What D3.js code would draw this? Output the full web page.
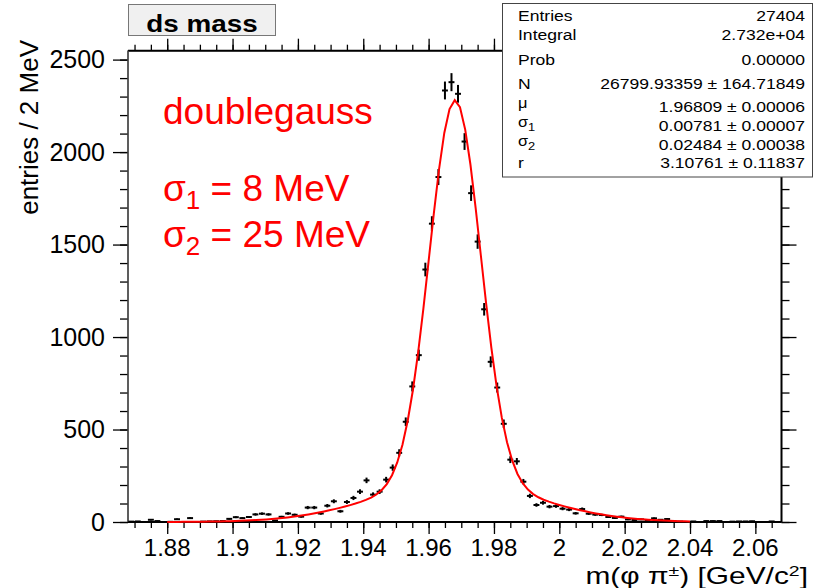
<!DOCTYPE html>
<html>
<head>
<meta charset="utf-8">
<script src="https://cdn.jsdelivr.net/npm/d3@7"></script>
<style>
  body { margin: 0; background: #fff; }
  text { font-family: "Liberation Sans", Arial, Helvetica, sans-serif; }
</style>
</head>
<body>
<svg id="chart" width="819" height="588"></svg>
<script>
// ---- histogram: m(phi pi) in 2 MeV bins ----
const histRange = [1.868, 2.068];
const binCount = 100;
const counts = [
  2, 3, 0, 12, 5, 0, 1, 15, 0, 21,
  0, 2, 3, 4, 5, 17, 26, 21, 27, 41,
  45, 41, 8, 28, 46, 39, 29, 78, 78, 46,
  88, 112, 58, 108, 130, 164, 225, 148, 164, 229,
  294, 374, 542, 733, 902, 1365, 1613, 1865, 2333, 2378,
  2315, 2057, 1778, 1516, 1150, 866, 727, 531, 337, 328,
  218, 141, 92, 104, 83, 86, 72, 67, 47, 70,
  45, 40, 38, 27, 22, 29, 14, 11, 14, 10,
  20, 12, 16, 4, 2, 0, 3, 0, 5, 5,
  5, 0, 2, 3, 3, 4, 0, 0, 3, 0
];

// ---- axis ticks ----
const xMajorTicks = [1.88, 1.90, 1.92, 1.94, 1.96, 1.98, 2.00, 2.02, 2.04, 2.06];
const xTickLabels = ["1.88", "1.9", "1.92", "1.94", "1.96", "1.98", "2", "2.02", "2.04", "2.06"];
const yMajorTicks = [0, 500, 1000, 1500, 2000, 2500];
const yTickLabels = ["0", "500", "1000", "1500", "2000", "2500"];

// ---- double-gaussian fit result ----
const fitRange = [1.88, 2.04];
const fitParamNames = ["N", "mu", "sigma1", "sigma2", "r"];
const fitParamValues = [26799.93359, 1.96809, 0.00781, 0.02484, 3.10761];
const fitParamErrors = [164.71849, 0.00006, 0.00007, 0.00038, 0.11837];

// ---- statistics box ----
const statsLabels = ["Entries", "Integral", "Prob", "N", "\u03bc", "\u03c3|1", "\u03c3|2", "r"];
const statsValues = ["27404", "2.732e+04", "0.00000",
  "26799.93359 \u00b1 164.71849", "1.96809 \u00b1 0.00006",
  "0.00781 \u00b1 0.00007", "0.02484 \u00b1 0.00038", "3.10761 \u00b1 0.11837"];

const svg = d3.select("#chart");
const frame = { left: 128, right: 781.5, top: 50.7, bottom: 522 };

const binWidth = (histRange[1] - histRange[0]) / binCount;
const bins = counts.map((c, i) => ({
  lo: histRange[0] + i * binWidth,
  hi: histRange[0] + (i + 1) * binWidth,
  c: c,
  e: Math.sqrt(c)
}));

const yMax = 1.05 * d3.max(bins, d => d.c + d.e);
const x = d3.scaleLinear().domain(histRange).range([frame.left, frame.right]);
const y = d3.scaleLinear().domain([0, yMax]).range([frame.bottom, frame.top]);

// frame outline
svg.append("rect")
  .attr("x", frame.left).attr("y", frame.top)
  .attr("width", frame.right - frame.left).attr("height", frame.bottom - frame.top)
  .attr("fill", "none").attr("stroke", "#555").attr("stroke-width", 1);

// ---- axes (ticks pointing outwards) ----
const xMinorTicks = d3.range(1.870, 2.068, 0.005).map(v => +v.toFixed(3));
const yMinorTicks = d3.range(0, yMax, 100);

function drawAxis(g, axis) {
  g.call(axis);
  g.select(".domain").remove();
  g.selectAll(".tick line").attr("stroke", "#000").attr("stroke-width", 1.3);
  g.selectAll(".tick text").remove();
}

// bottom
drawAxis(svg.append("g").attr("transform", `translate(0,${frame.bottom})`),
  d3.axisBottom(x).tickValues(xMinorTicks).tickSize(6));
drawAxis(svg.append("g").attr("transform", `translate(0,${frame.bottom})`),
  d3.axisBottom(x).tickValues(xMajorTicks).tickSize(12));
// top
drawAxis(svg.append("g").attr("transform", `translate(0,${frame.top})`),
  d3.axisTop(x).tickValues(xMinorTicks).tickSize(6));
drawAxis(svg.append("g").attr("transform", `translate(0,${frame.top})`),
  d3.axisTop(x).tickValues(xMajorTicks).tickSize(12));
// left
drawAxis(svg.append("g").attr("transform", `translate(${frame.left},0)`),
  d3.axisLeft(y).tickValues(yMinorTicks).tickSize(8));
drawAxis(svg.append("g").attr("transform", `translate(${frame.left},0)`),
  d3.axisLeft(y).tickValues(yMajorTicks).tickSize(15));
// right
drawAxis(svg.append("g").attr("transform", `translate(${frame.right},0)`),
  d3.axisRight(y).tickValues(yMinorTicks).tickSize(8));
drawAxis(svg.append("g").attr("transform", `translate(${frame.right},0)`),
  d3.axisRight(y).tickValues(yMajorTicks).tickSize(15));

// axis lines
svg.append("line").attr("x1", frame.left).attr("x2", frame.right)
  .attr("y1", frame.bottom).attr("y2", frame.bottom).attr("stroke", "#000").attr("stroke-width", 2);
svg.append("line").attr("x1", frame.left).attr("x2", frame.right)
  .attr("y1", frame.top).attr("y2", frame.top).attr("stroke", "#000").attr("stroke-width", 2);
svg.append("line").attr("x1", frame.right).attr("x2", frame.right)
  .attr("y1", frame.top).attr("y2", frame.bottom).attr("stroke", "#000").attr("stroke-width", 2);
svg.append("line").attr("x1", frame.left).attr("x2", frame.left)
  .attr("y1", frame.top).attr("y2", frame.bottom).attr("stroke", "#444").attr("stroke-width", 1.5);

// tick labels
svg.append("g").selectAll("text").data(xMajorTicks).join("text")
  .attr("x", d => x(d)).attr("y", 556)
  .attr("text-anchor", "middle").attr("font-size", 24)
  .text((d, i) => xTickLabels[i]);
svg.append("g").selectAll("text").data(yMajorTicks).join("text")
  .attr("x", 105).attr("y", d => y(d)).attr("dy", "0.35em")
  .attr("text-anchor", "end").attr("font-size", 25)
  .text((d, i) => yTickLabels[i]);

// axis titles
svg.append("text")
  .attr("transform", "translate(38,40) rotate(-90) scale(1.04,1)")
  .attr("text-anchor", "end").attr("font-size", 25)
  .text("entries / 2 MeV");

const xTitle = svg.append("text")
  .attr("transform", "translate(808,584) scale(1.3,1)")
  .attr("text-anchor", "end").attr("font-size", 23);
xTitle.append("tspan").text("m(");
xTitle.append("tspan").text("\u03c6 \u03c0");
xTitle.append("tspan").attr("dy", -8).attr("font-size", 15).text("\u00b1");
xTitle.append("tspan").attr("dy", 8).text(") [GeV/c");
xTitle.append("tspan").attr("dy", -8).attr("font-size", 15).text("2");
xTitle.append("tspan").attr("dy", 8).text("]");

// ---- data points with error bars ----
const pts = svg.append("g").attr("stroke", "#000").attr("stroke-width", 2);
const filled = bins.filter(d => d.c > 0);
pts.selectAll("line.h").data(filled).join("line").attr("class", "h")
  .attr("x1", d => x(d.lo) + 0.3).attr("x2", d => x(d.hi) - 0.3)
  .attr("y1", d => y(d.c)).attr("y2", d => y(d.c));
pts.selectAll("line.v").data(filled).join("line").attr("class", "v")
  .attr("x1", d => x((d.lo + d.hi) / 2)).attr("x2", d => x((d.lo + d.hi) / 2))
  .attr("y1", d => y(d.c - d.e)).attr("y2", d => y(d.c + d.e));

// ---- fitted double gaussian ----
const [pN, pMu, pS1, pS2, pR] = fitParamValues;
function gauss(v, m, s) {
  return Math.exp(-0.5 * ((v - m) / s) ** 2) / (s * Math.sqrt(2 * Math.PI));
}
function model(v) {
  return pN * binWidth * (pR / (1 + pR) * gauss(v, pMu, pS1) + 1 / (1 + pR) * gauss(v, pMu, pS2));
}
const nPx = 100;
const curve = d3.range(nPx + 1).map(i => {
  const v = fitRange[0] + (fitRange[1] - fitRange[0]) * i / nPx;
  return [v, model(v)];
});
svg.append("path")
  .attr("d", d3.line().x(d => x(d[0])).y(d => y(d[1]))(curve))
  .attr("fill", "none").attr("stroke", "#ff0000").attr("stroke-width", 2);

// ---- annotation ----
const note = svg.append("g").attr("fill", "#ff0000").attr("font-size", 37);
note.append("text").attr("x", 163).attr("y", 124).text("doublegauss");
[["1", "8 MeV", 201], ["2", "25 MeV", 247]].forEach(([sub, val, yy]) => {
  const t = note.append("text").attr("x", 163).attr("y", yy);
  t.append("tspan").text("\u03c3");
  t.append("tspan").attr("dy", 8).attr("font-size", 26).text(sub);
  t.append("tspan").attr("dy", -8).text(" = " + val);
});

// ---- title box ----
svg.append("rect").attr("x", 128.5).attr("y", 4.5).attr("width", 147).attr("height", 31)
  .attr("fill", "#f0f0f0").attr("stroke", "#777").attr("stroke-width", 1);
svg.append("text").attr("transform", "translate(202,32) scale(1.16,1)")
  .attr("text-anchor", "middle")
  .attr("font-size", 24).attr("font-weight", "bold").text("ds mass");

// ---- statistics box ----
const sb = { x: 502.5, y: 3.5, w: 310, h: 173.5 };
svg.append("rect").attr("x", sb.x).attr("y", sb.y).attr("width", sb.w).attr("height", sb.h)
  .attr("fill", "#fff").attr("stroke", "#444").attr("stroke-width", 1);
const rowBase = [21, 40, 65, 89, 111.5, 130.5, 149.5, 167.5];
const stretch = 1.17;
statsLabels.forEach((lab, i) => {
  const greek = /[\u03bc\u03c3]/.test(lab);
  const t = svg.append("text")
    .attr("transform", `translate(518,${rowBase[i] - (greek ? 3.5 : 0)}) scale(${stretch},1)`)
    .attr("font-size", greek ? 14 : 15);
  const [main, sub] = lab.split("|");
  t.append("tspan").text(main);
  if (sub) t.append("tspan").attr("dy", 4).attr("font-size", 11).text(sub);
});
statsValues.forEach((val, i) => {
  svg.append("text")
    .attr("transform", `translate(805,${rowBase[i]}) scale(${stretch},1)`)
    .attr("text-anchor", "end").attr("font-size", 15)
    .text(val);
});
</script>
</body>
</html>
